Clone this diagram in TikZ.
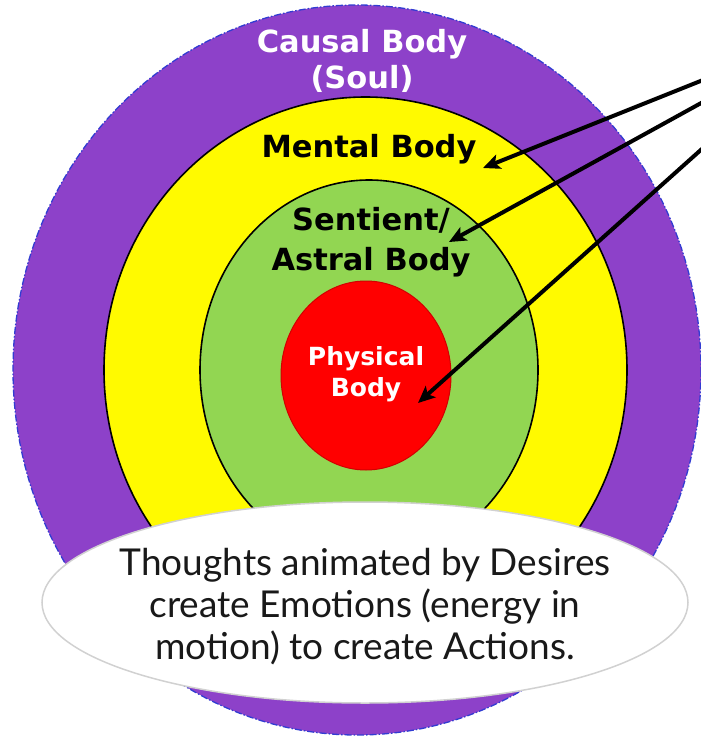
\documentclass[tikz,border=0pt]{standalone}
\usepackage{fontspec}
\setmainfont{DejaVu Sans}
\newfontfamily\notefont{Lato}
\usetikzlibrary{arrows.meta}
\definecolor{causal}{RGB}{141,65,201}
\definecolor{causaledge}{RGB}{50,60,210}
\definecolor{mental}{RGB}{255,250,0}
\definecolor{astral}{RGB}{146,214,82}
\definecolor{physical}{RGB}{255,0,0}
\definecolor{physedge}{RGB}{210,0,0}
\tikzset{
  layer/.style={draw=black, line width=1.6pt},
  lbl/.style={anchor=base, font=\bfseries\fontsize{30.5}{34}\selectfont, inner sep=0pt},
  plbl/.style={anchor=base, font=\bfseries\fontsize{25}{28}\selectfont, inner sep=0pt, text=white},
  note/.style={anchor=base, font=\notefont\fontsize{37}{42}\selectfont, inner sep=0pt, text=black!90},
  pointer/.style={draw=black, line width=4pt, -{Stealth[length=17pt,width=15pt,inset=4pt]}}
}
\begin{document}
\begin{tikzpicture}[x=1pt,y=-1pt]
\useasboundingbox (0,0) rectangle (701,739);
\clip (0,0) rectangle (701,739);
% causal body
\fill[causal] (357,370) ellipse [x radius=344, y radius=365];
\draw[causaledge, line width=1.3pt, dash pattern=on 7pt off 2pt on 1.5pt off 2pt] (357,370) ellipse [x radius=344, y radius=365];
% mental body
\filldraw[layer, fill=mental] (365.5,370) ellipse [x radius=261.5, y radius=273];
% astral body
\filldraw[layer, fill=astral] (369,370) ellipse [x radius=169, y radius=190];
% physical body
\filldraw[fill=physical, draw=physedge, line width=1pt] (366,375.5) ellipse [x radius=85, y radius=94.5];
% labels
\node[lbl, text=white] (c1) at (362,52) {Causal Body};
\node[lbl, text=white] (c2) at (362,88) {(Soul)};
\node[lbl] (m1) at (369,157) {Mental Body};
\node[lbl] (s1) at (371,230) {Sentient/};
\node[lbl] (s2) at (371,270) {Astral Body};
\node[plbl] (p1) at (366,365) {Physical};
\node[plbl] (p2) at (366,396) {Body};
% arrows
\coordinate (o1) at (703,80);
\coordinate (o2) at (703,102);
\coordinate (o3) at (703,148);
\coordinate (t1) at (483,168);
\coordinate (t2) at (449,242);
\coordinate (t3) at (418,403);
\draw[pointer] (o1) -- (t1);
\draw[pointer] (o2) -- (t2);
\draw[pointer] (o3) -- (t3);
% note
\filldraw[fill=white, draw=black!18, line width=1.5pt] (365,602.5) ellipse [x radius=323, y radius=100.5];
\node[note] (n1) at (365,575) {Thoughts animated by Desires};
\node[note] (n2) at (365,617) {create Emotions (energy in};
\node[note] (n3) at (365,659) {motion) to create Actions.};
\end{tikzpicture}
\end{document}
